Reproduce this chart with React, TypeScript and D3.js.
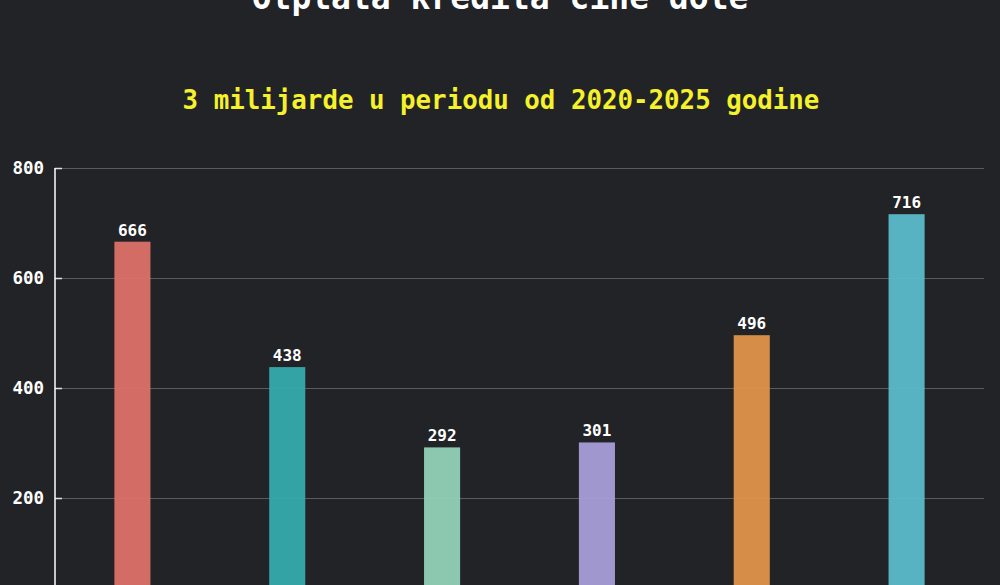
import React from "react";
import * as d3 from "d3";

const categories = ["2020", "2021", "2022", "2023", "2024", "2025"];
const values = [666, 438, 292, 301, 496, 716];
const colors = ["#dc7168", "#36abac", "#92d1b6", "#a99ed8", "#df9449", "#5bbcca"];
const yTicks = [0, 200, 400, 600, 800];
const title = "Otplata kredita cine dole";
const subtitle = "3 milijarde u periodu od 2020-2025 godine";

const W = 1000;
const H = 585;
const font = "'DejaVu Sans Mono', 'Liberation Mono', monospace";

export default function App() {
  const x = d3
    .scaleBand<string>()
    .domain(categories)
    .range([55, 984])
    .paddingInner(0.767)
    .paddingOuter(0.3835);
  const y = d3.scaleLinear().domain([0, 800]).range([608, 168]);

  return (
    <div style={{ position: "fixed", left: 0, top: 0, width: W, height: H, overflow: "hidden" }}>
      <svg width={W} height={H} style={{ display: "block", background: "#222327" }}>
        <text x={500} y={9} textAnchor="middle" fill="#ffffff" fontFamily={font} fontWeight="bold" fontSize={33}>
          {title}
        </text>
        <text x={501} y={109} textAnchor="middle" fill="#f5f12a" fontFamily={font} fontWeight="bold" fontSize={25.8}>
          {subtitle}
        </text>
        {yTicks.map((t) => (
          <g key={t}>
            <line x1={62} x2={984} y1={y(t) + 0.5} y2={y(t) + 0.5} stroke="#5a5b5f" strokeWidth={1.2} />
            <line x1={55} x2={62} y1={y(t) + 0.5} y2={y(t) + 0.5} stroke="#e0e0e0" strokeWidth={1.5} />
            <text
              x={44}
              y={y(t)}
              dy="0.35em"
              textAnchor="end"
              fill="#ffffff"
              fontFamily={font}
              fontWeight="bold"
              fontSize={17.5}
            >
              {t}
            </text>
          </g>
        ))}
        <line x1={55} x2={55} y1={168} y2={608} stroke="#ffffff" strokeWidth={1.5} />
        {categories.map((c, i) => {
          const bx = x(c)!;
          const bw = x.bandwidth();
          return (
            <g key={c}>
              <rect x={bx} y={y(values[i])} width={bw} height={y(0) - y(values[i])} fill={colors[i]} fillOpacity={0.95} />
              <text
                x={bx + bw / 2}
                y={y(values[i]) - 6}
                textAnchor="middle"
                fill="#ffffff"
                fontFamily={font}
                fontWeight="bold"
                fontSize={16}
              >
                {values[i]}
              </text>
            </g>
          );
        })}
        {categories.map((c) => (
          <text
            key={"l" + c}
            x={x(c)! + x.bandwidth() / 2}
            y={632}
            textAnchor="middle"
            fill="#ffffff"
            fontFamily={font}
            fontWeight="bold"
            fontSize={17}
          >
            {c}
          </text>
        ))}
      </svg>
    </div>
  );
}
